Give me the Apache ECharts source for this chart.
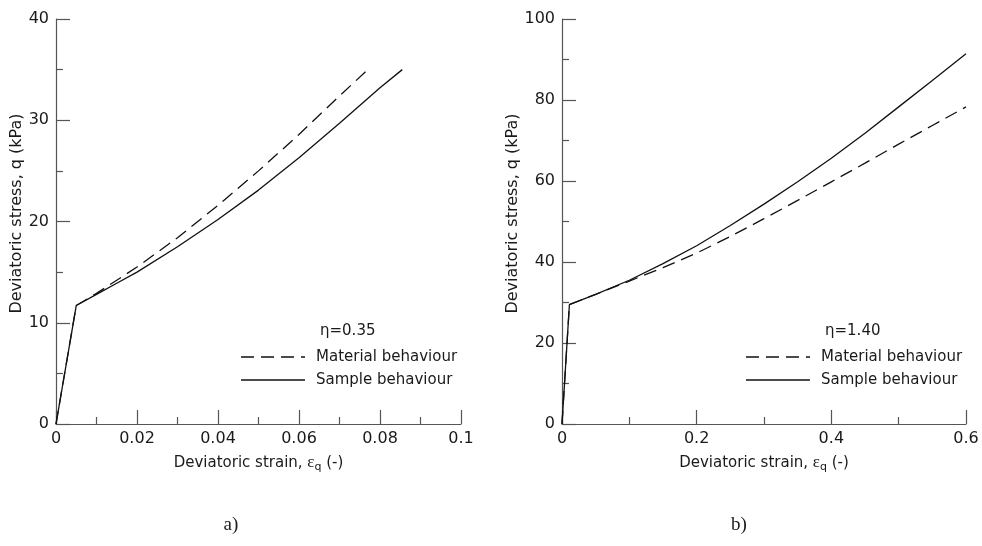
<!DOCTYPE html>
<html>
<head>
<meta charset="utf-8">
<script src="https://cdn.jsdelivr.net/npm/echarts@6/dist/echarts.min.js"></script>
<style>
  html, body { margin: 0; padding: 0; background: #fff; }
  #chart { width: 982px; height: 546px; }
</style>
</head>
<body>
<div id="chart"></div>
<script>
// Panel a) stress ratio eta = 0.35
const strainA = [0, 0.005, 0.01, 0.015, 0.02, 0.03, 0.04, 0.05, 0.06, 0.07, 0.08, 0.0855];
const sampleA = [0, 11.7, 12.8, 13.9, 15.0, 17.5, 20.2, 23.1, 26.3, 29.7, 33.2, 35.0];
const strainMatA = [0, 0.005, 0.01, 0.015, 0.02, 0.03, 0.04, 0.05, 0.06, 0.07, 0.077];
const materialA = [0, 11.7, 12.9, 14.2, 15.5, 18.4, 21.6, 25.0, 28.6, 32.4, 35.0];

// Panel b) stress ratio eta = 1.40
const strainB = [0, 0.011, 0.05, 0.1, 0.15, 0.2, 0.25, 0.3, 0.35, 0.4, 0.45, 0.5, 0.55, 0.6];
const sampleB = [0, 29.5, 32.0, 35.5, 39.6, 44.0, 49.0, 54.3, 59.8, 65.6, 71.8, 78.3, 84.8, 91.4];
const materialB = [0, 29.5, 32.0, 35.3, 38.6, 42.2, 46.3, 50.7, 55.2, 59.8, 64.4, 69.1, 73.7, 78.3];

const xTicksA = { min: 0, max: 0.1, interval: 0.02 };
const yTicksA = { min: 0, max: 40, interval: 10 };
const xTicksB = { min: 0, max: 0.6, interval: 0.2 };
const yTicksB = { min: 0, max: 100, interval: 20 };

const etaLabels = ['\u03b7=0.35', '\u03b7=1.40'];
const seriesNames = ['Material behaviour', 'Sample behaviour'];
const panelCaptions = ['a)', 'b)'];

const pairs = (xs, ys) => xs.map((x, i) => [x, ys[i]]);

const FONT = 'DejaVu Sans';
const TEXT = '#1a1a1a';
const AXIS = '#555';
const LINE = '#111';
const DASH = [13, 7];

function xAxis(idx, t) {
  return {
    type: 'value', gridIndex: idx, min: t.min, max: t.max, interval: t.interval,
    name: 'Deviatoric strain, {e|\u03b5}{sub|q} (-)',
    nameLocation: 'middle', nameGap: 29,
    nameTextStyle: {
      color: TEXT, fontFamily: FONT, fontSize: 15,
      rich: {
        e: { fontFamily: 'Liberation Serif', fontSize: 17, color: TEXT },
        sub: { fontFamily: FONT, fontSize: 11, color: TEXT, padding: [9, 0, 0, 0] }
      }
    },
    axisLine: { show: true, lineStyle: { color: AXIS, width: 1.2 } },
    axisTick: { show: true, inside: true, length: 14, lineStyle: { color: AXIS, width: 1.2 } },
    minorTick: { show: true, splitNumber: 2, length: 7, lineStyle: { color: AXIS, width: 1.2 } },
    splitLine: { show: false },
    axisLabel: {
      color: TEXT, fontFamily: FONT, fontSize: 16, margin: 7,
      formatter: v => String(+v.toFixed(3))
    }
  };
}

function yAxis(idx, t) {
  return {
    type: 'value', gridIndex: idx, min: t.min, max: t.max, interval: t.interval,
    name: 'Deviatoric stress, q (kPa)',
    nameLocation: 'middle', nameGap: 28, nameRotate: 90,
    nameTextStyle: { color: TEXT, fontFamily: FONT, fontSize: 16, padding: [0, 0, 0, 16] },
    axisLine: { show: true, lineStyle: { color: AXIS, width: 1.2 } },
    axisTick: { show: true, inside: true, length: 14, lineStyle: { color: AXIS, width: 1.2 } },
    minorTick: { show: true, splitNumber: 2, length: 7, lineStyle: { color: AXIS, width: 1.2 } },
    splitLine: { show: false },
    axisLabel: { color: TEXT, fontFamily: FONT, fontSize: 16, margin: 7 }
  };
}

function curve(name, idx, data, dashed) {
  return {
    name, type: 'line', xAxisIndex: idx, yAxisIndex: idx,
    data, showSymbol: false, symbol: 'none', smooth: false,
    lineStyle: { color: LINE, width: 1.3, type: dashed ? DASH : 'solid' },
    itemStyle: { color: LINE },
    animation: false
  };
}

// legend key: a short line sample followed by the series name
function legendKey(x, y, name, dashed) {
  return [
    { type: 'line', shape: { x1: x, y1: y, x2: x + 64, y2: y },
      style: { stroke: LINE, lineWidth: 1.3, lineDash: dashed ? DASH : null } },
    { type: 'text', x: x + 75, y: y, style: { text: name, font: '15px "DejaVu Sans"', fill: TEXT, verticalAlign: 'middle' } }
  ];
}

function panelLegend(x, eta) {
  return [
    { type: 'text', x: x + 79, y: 331, style: { text: eta, font: '15px "DejaVu Sans"', fill: TEXT, verticalAlign: 'middle' } },
    ...legendKey(x, 357, seriesNames[0], true),
    ...legendKey(x, 380, seriesNames[1], false)
  ];
}

const chart = echarts.init(document.getElementById('chart'), null, { renderer: 'canvas' });
chart.setOption({
  backgroundColor: '#fff',
  animation: false,
  grid: [
    { left: 56, top: 19, width: 405, height: 405 },
    { left: 562, top: 19, width: 404, height: 405 }
  ],
  xAxis: [xAxis(0, xTicksA), xAxis(1, xTicksB)],
  yAxis: [yAxis(0, yTicksA), yAxis(1, yTicksB)],
  series: [
    curve(seriesNames[0], 0, pairs(strainMatA, materialA), true),
    curve(seriesNames[1], 0, pairs(strainA, sampleA), false),
    curve(seriesNames[0], 1, pairs(strainB, materialB), true),
    curve(seriesNames[1], 1, pairs(strainB, sampleB), false)
  ],
  graphic: [
    ...panelLegend(241, etaLabels[0]),
    ...panelLegend(746, etaLabels[1]),
    { type: 'text', x: 231, y: 525, style: { text: panelCaptions[0], font: '19px "Liberation Serif"', fill: TEXT, align: 'center', verticalAlign: 'middle' } },
    { type: 'text', x: 739, y: 525, style: { text: panelCaptions[1], font: '19px "Liberation Serif"', fill: TEXT, align: 'center', verticalAlign: 'middle' } }
  ]
});
</script>
</body>
</html>
